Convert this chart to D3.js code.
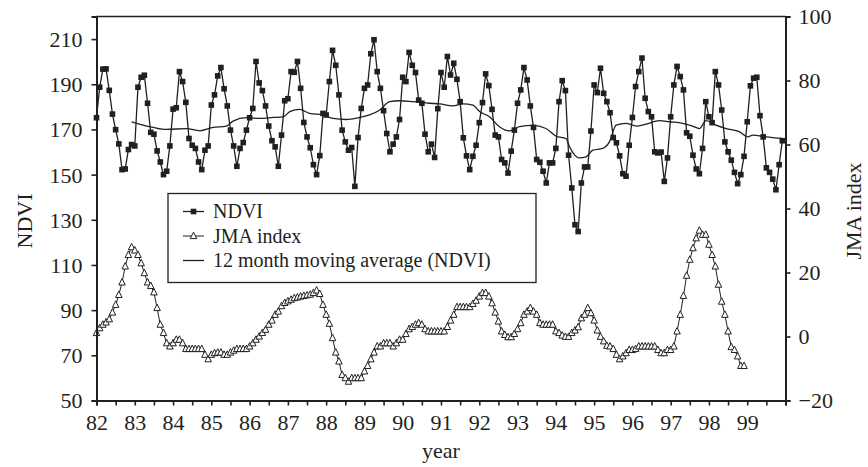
<!DOCTYPE html>
<html>
<head>
<meta charset="utf-8">
<script src="https://cdn.jsdelivr.net/npm/d3@7"></script>
<style>
	body { margin: 0; background: #fff; }
	svg { display: block; font-family: "Liberation Serif", "DejaVu Serif", serif; }
	.axis path, .axis line { stroke: #231f20; }
	.axis text { font-family: "Liberation Serif", serif; font-size: 22px; fill: #231f20; }
</style>
</head>
<body>
<svg id="chart" width="868" height="467"></svg>
<script>
// monthly values, Jan 1982 onward
var ndvi = [
	175.2, 188.7, 196.7, 196.8, 187.3, 176.8, 169.9, 163.6, 152.2, 152.5, 161.1, 163.3,
	162.7, 188.7, 193.1, 194.0, 181.6, 168.7, 167.9, 160.5, 155.6, 150.0, 151.5, 162.7,
	179.0, 179.6, 195.6, 191.2, 182.0, 166.0, 163.0, 161.6, 155.6, 152.2, 160.8, 162.7,
	180.8, 185.3, 193.7, 197.4, 188.0, 180.4, 169.7, 162.7, 153.7, 161.6, 164.2, 169.7,
	175.2, 179.3, 200.1, 190.6, 187.2, 180.4, 171.5, 165.0, 162.3, 153.7, 167.5, 182.7,
	183.6, 195.6, 195.3, 200.1, 188.2, 173.1, 166.7, 161.9, 154.4, 150.0, 158.4, 177.1,
	176.4, 191.2, 205.0, 198.4, 185.3, 169.7, 164.5, 160.8, 162.0, 144.8, 166.4, 179.3,
	188.2, 189.7, 203.5, 209.7, 195.6, 188.2, 178.3, 168.2, 160.1, 163.5, 166.7, 174.4,
	193.1, 191.2, 204.1, 198.4, 195.2, 183.0, 181.6, 167.9, 160.1, 163.5, 157.6, 179.2,
	195.2, 188.7, 202.3, 194.1, 199.3, 192.2, 182.3, 166.3, 158.3, 152.2, 158.1, 163.0,
	173.0, 181.9, 194.6, 189.4, 178.9, 167.5, 166.7, 156.7, 155.2, 150.7, 160.4, 169.7,
	181.6, 187.5, 197.4, 191.9, 180.4, 170.9, 156.7, 155.5, 151.5, 146.3, 155.2, 155.2,
	161.6, 182.3, 191.6, 187.2, 158.6, 144.1, 127.8, 124.8, 146.3, 153.4, 153.4, 169.3,
	189.7, 186.3, 197.1, 186.0, 182.3, 177.4, 166.4, 164.1, 158.3, 150.4, 149.3, 163.0,
	175.3, 189.0, 195.6, 201.6, 183.8, 177.9, 175.6, 160.1, 159.6, 160.0, 147.0, 157.4,
	175.6, 189.7, 197.9, 193.4, 187.5, 168.5, 167.0, 158.6, 152.5, 150.4, 161.6, 182.3,
	175.6, 173.0, 195.6, 189.7, 178.6, 164.5, 160.1, 156.4, 151.0, 146.0, 150.0, 158.1,
	173.4, 189.3, 192.7, 193.1, 176.1, 166.7, 153.0, 151.0, 148.0, 143.3, 154.4, 165.0
];

var jma = [
	1.1, 2.6, 3.7, 4.4, 5.4, 7.5, 9.9, 13.0, 16.9, 21.9, 25.5, 27.9,
	26.9, 25.5, 22.9, 19.8, 16.9, 15.8, 13.8, 8.9, 3.7, 1.1, -2.1, -3.1,
	-2.1, -1.0, -1.0, -2.1, -3.9, -3.9, -3.9, -3.9, -3.9, -3.9, -5.7, -7.1,
	-5.7, -5.2, -5.0, -5.0, -5.7, -5.7, -5.0, -4.4, -3.9, -3.9, -3.9, -3.9,
	-3.1, -2.1, -1.0, 0.0, 1.1, 2.1, 3.7, 5.0, 6.8, 7.8, 9.5, 10.5,
	11.0, 11.5, 12.0, 12.2, 12.5, 12.7, 12.9, 13.1, 13.6, 14.4, 13.3, 9.9,
	6.8, 4.0, -0.5, -5.0, -7.8, -12.0, -13.0, -14.1, -13.0, -13.0, -13.0, -13.0,
	-10.9, -9.2, -7.1, -5.0, -3.1, -3.1, -2.1, -2.1, -2.1, -3.1, -2.1, -1.0,
	-1.0, 0.8, 2.3, 3.0, 3.7, 4.2, 3.7, 2.3, 1.6, 1.6, 1.6, 1.6,
	1.6, 1.6, 3.0, 5.0, 6.8, 9.2, 9.2, 9.2, 9.2, 9.2, 10.2, 11.2,
	12.5, 13.6, 13.6, 12.5, 10.4, 7.5, 4.7, 1.6, 0.5, -0.2, -0.2, 0.8,
	2.3, 4.2, 6.8, 7.8, 8.9, 7.8, 6.8, 4.2, 3.7, 3.7, 3.7, 3.7,
	1.6, 1.1, 0.3, -0.1, -0.1, 1.1, 1.9, 2.9, 5.7, 6.8, 8.9, 7.3,
	5.0, 1.9, -0.1, -1.5, -2.9, -3.1, -3.9, -5.7, -7.1, -6.2, -5.2, -4.2,
	-4.2, -3.9, -3.1, -3.1, -3.1, -3.1, -3.1, -3.1, -4.2, -5.2, -5.2, -4.2,
	-4.2, -3.1, 1.6, 6.8, 12.7, 19.0, 24.0, 27.6, 30.7, 33.1, 31.8, 31.8,
	28.7, 25.5, 21.9, 16.2, 10.9, 6.8, 1.6, -3.3, -4.2, -6.2, -9.2, -9.2
];

// 12 month moving average (month index, value)
var maMonth = [11, 14.6, 17.8, 21.9, 28.2, 32.4, 36.6, 40.7, 42.8, 47, 51.2, 55.4, 58.5,
	60.6, 63.7, 66.8, 71, 74.1, 78.3, 82.5, 85.6, 88.8, 91.9, 95, 99.2, 104.4, 107.6,
	111.7, 114.9, 118, 120.1, 123.2, 126.3, 129.5, 132.6, 136.8, 140.9, 144.1, 147.2,
	148.3, 151.4, 153.5, 155.6, 158.7, 160.8, 162.9, 166, 169.2, 172.3, 176.5, 179.6,
	183.8, 186.9, 189, 191.1, 194.2, 197.4, 201.5, 204.2, 205.7, 209.9, 215];
var maValue = [173.4, 171.9, 170.9, 170.0, 170.4, 169.4, 170.9, 171.5, 173.7, 175.2, 174.9, 175.3, 175.6,
	177.9, 178.9, 177.1, 176.4, 174.9, 174.4, 175.3, 176.4, 178.6, 182.3, 182.7, 182.3, 181.6, 181.3,
	180.4, 181.3, 180.8, 177.9, 175.6, 171.2, 169.4, 171.2, 171.8, 170.4, 167.0, 166.0,
	162.3, 157.4, 157.9, 160.8, 161.6, 164.5, 171.9, 172.7, 171.5, 172.4, 173.9, 173.4,
	172.7, 171.5, 170.4, 173.9, 171.9, 170.4, 169.0, 166.7, 167.5, 166.7, 166.0];

var yearTicks = d3.range(82, 100);
var ndviTicks = [50, 70, 90, 110, 130, 150, 170, 190, 210];
var jmaTicks = [-20, 0, 20, 40, 60, 80, 100];
var legendLabels = ["NDVI", "JMA index", "12 month moving average (NDVI)"];

var START_YEAR = 82;
var INK = "#231f20";

var svg = d3.select("#chart");

var x = d3.scaleLinear().domain([82, 100]).range([96.5, 785.5]);
var yLeft = d3.scaleLinear().domain([50, 220]).range([400.5, 16.5]);
var yRight = d3.scaleLinear().domain([-20, 100]).range([400.5, 16.5]);

function monthToYear(m) {
	return START_YEAR + m / 12;
}

function drawAxes() {
	// top border
	svg.append("line")
		.attr("x1", x(82)).attr("x2", x(100))
		.attr("y1", yLeft(220)).attr("y2", yLeft(220))
		.attr("stroke", INK).attr("stroke-width", 1.6);

	var bottom = svg.append("g")
		.attr("class", "axis")
		.attr("transform", "translate(0," + yLeft(50) + ")")
		.call(d3.axisBottom(x)
			.tickValues(d3.range(82, 100.01, 0.5))
			.tickSize(5)
			.tickPadding(9)
			.tickFormat(function(d) { return (d % 1 == 0 && d < 100) ? d : ""; }));

	var left = svg.append("g")
		.attr("class", "axis")
		.attr("transform", "translate(" + x(82) + ",0)")
		.call(d3.axisLeft(yLeft).tickValues(ndviTicks).tickSize(5).tickPadding(9));

	var right = svg.append("g")
		.attr("class", "axis")
		.attr("transform", "translate(" + x(100) + ",0)")
		.call(d3.axisRight(yRight).tickValues(jmaTicks).tickSize(5).tickPadding(8));

	[bottom, left, right].forEach(function(g) {
		g.select(".domain").attr("stroke-width", 2);
		g.selectAll(".tick line").attr("stroke-width", 1.6);
		g.selectAll(".tick text").attr("dy", "0.34em");
	});
	bottom.selectAll(".tick text").attr("dy", "0.71em");

	svg.append("text")
		.attr("x", 441).attr("y", 458)
		.attr("text-anchor", "middle")
		.attr("font-size", 22).attr("fill", INK)
		.text("year");

	svg.append("text")
		.attr("transform", "translate(32,221) rotate(-90)")
		.attr("text-anchor", "middle")
		.attr("font-size", 22).attr("fill", INK)
		.text("NDVI");

	svg.append("text")
		.attr("transform", "translate(861,211) rotate(-90)")
		.attr("text-anchor", "middle")
		.attr("font-size", 22).attr("fill", INK)
		.text("JMA index");
}

function trianglePath(cx, cy, s) {
	return "M" + cx + "," + (cy - s * 0.6) + "L" + (cx + s / 2) + "," + (cy + s * 0.4) +
		"L" + (cx - s / 2) + "," + (cy + s * 0.4) + "Z";
}

function drawSeries() {
	var jmaLine = d3.line()
		.x(function(d, i) { return x(monthToYear(i)); })
		.y(function(d) { return yRight(d); });

	svg.append("path")
		.datum(jma)
		.attr("d", jmaLine)
		.attr("fill", "none")
		.attr("stroke", INK)
		.attr("stroke-width", 1);

	svg.append("g").selectAll("path")
		.data(jma)
		.enter().append("path")
			.attr("d", function(d, i) { return trianglePath(x(monthToYear(i)), yRight(d), 6.5); })
			.attr("fill", "#fff")
			.attr("stroke", INK)
			.attr("stroke-width", 1);

	var maLine = d3.line()
		.x(function(d, i) { return x(monthToYear(maMonth[i])); })
		.y(function(d) { return yLeft(d); })
		.curve(d3.curveMonotoneX);

	svg.append("path")
		.datum(maValue)
		.attr("d", maLine)
		.attr("fill", "none")
		.attr("stroke", INK)
		.attr("stroke-width", 1.3);

	var ndviLine = d3.line()
		.x(function(d, i) { return x(monthToYear(i)); })
		.y(function(d) { return yLeft(d); });

	svg.append("path")
		.datum(ndvi)
		.attr("d", ndviLine)
		.attr("fill", "none")
		.attr("stroke", INK)
		.attr("stroke-width", 1.3);

	svg.append("g").selectAll("rect")
		.data(ndvi)
		.enter().append("rect")
			.attr("x", function(d, i) { return x(monthToYear(i)) - 2.8; })
			.attr("y", function(d) { return yLeft(d) - 2.8; })
			.attr("width", 5.6)
			.attr("height", 5.6)
			.attr("fill", INK);
}

function drawLegend() {
	var g = svg.append("g");
	g.append("rect")
		.attr("x", 168).attr("y", 193.5)
		.attr("width", 368).attr("height", 89)
		.attr("fill", "#fff")
		.attr("stroke", INK)
		.attr("stroke-width", 1.3);

	var rows = [211.5, 236, 260.5];
	for (var i = 0; i < legendLabels.length; i++) {
		var cy = rows[i];
		g.append("line")
			.attr("x1", 183).attr("x2", 204)
			.attr("y1", cy).attr("y2", cy)
			.attr("stroke", INK).attr("stroke-width", i == 1 ? 1 : 1.3);
		if (i == 0) {
			g.append("rect")
				.attr("x", 190.7).attr("y", cy - 2.8)
				.attr("width", 5.6).attr("height", 5.6)
				.attr("fill", INK);
		} else if (i == 1) {
			g.append("path")
				.attr("d", trianglePath(193.5, cy, 6.5))
				.attr("fill", "#fff").attr("stroke", INK).attr("stroke-width", 1);
		}
		g.append("text")
			.attr("x", 213).attr("y", cy + 6.5)
			.attr("font-size", 20).attr("fill", INK)
			.text(legendLabels[i]);
	}
}

drawSeries();
drawAxes();
drawLegend();
</script>
</body>
</html>
